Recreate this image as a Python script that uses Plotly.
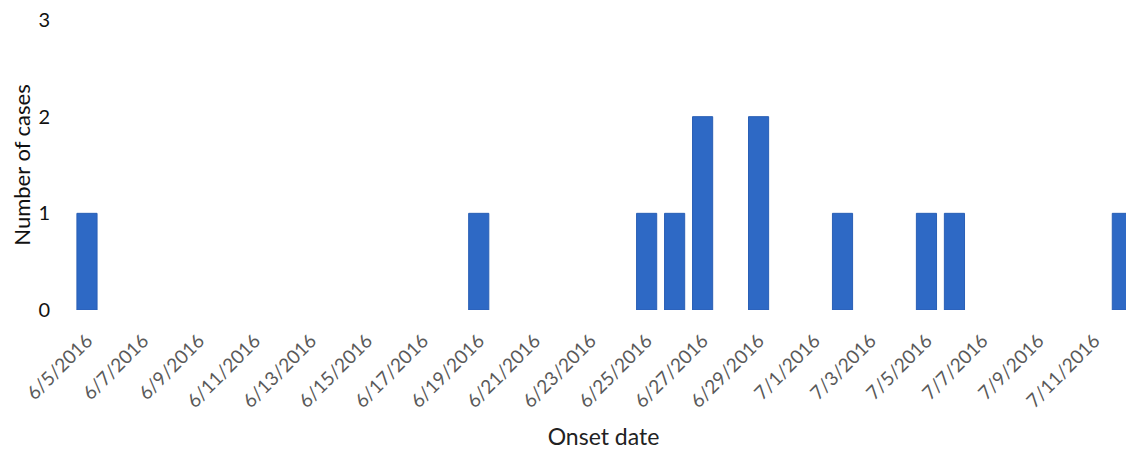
import plotly.graph_objects as go

onset_dates = ["2016-06-05", "2016-06-19", "2016-06-25", "2016-06-26", "2016-06-27",
               "2016-06-29", "2016-07-02", "2016-07-05", "2016-07-06", "2016-07-12"]
case_counts = [1, 1, 1, 1, 2, 2, 1, 1, 1, 1]

x_title = "Onset date"
y_title = "Number of cases"
DAY_MS = 86400000

fig = go.Figure(go.Bar(
    x=onset_dates, y=case_counts,
    width=0.72 * DAY_MS,
    marker=dict(color="#2e69c5", line=dict(color="#2a5fb5", width=1)),
))

# page body has an 8px margin; compensate so the plot area sits where the reference has it
fig.update_layout(
    width=1126, height=444,
    margin=dict(l=65, r=0, t=12, b=142, autoexpand=False),
    plot_bgcolor="white", paper_bgcolor="white",
    font=dict(family="Lato, Open Sans, sans-serif"),
    showlegend=False,
)
fig.update_xaxes(
    type="date",
    range=["2016-06-04 12:00", "2016-07-12 10:00"],
    tick0="2016-06-05", dtick=2 * DAY_MS,
    tickformat="%-m/%-d/%Y", tickangle=-45,
    tickfont=dict(size=19, color="#595959"),
    ticklabelstandoff=15,
    ticklabeloverflow="allow",
    showgrid=False, showline=False, zeroline=False, ticks="",
    title=dict(text=x_title, font=dict(size=23, color="#222222"), standoff=18),
)
fig.update_yaxes(
    range=[0, 3], dtick=1,
    tickfont=dict(size=20, color="#111111"),
    ticklabeloverflow="allow",
    showgrid=False, showline=False, zeroline=False, ticks="",
    ticklabelstandoff=22,
    title=dict(text=y_title, font=dict(size=22, color="#111111"), standoff=11),
)

fig.write_html("out.html")
